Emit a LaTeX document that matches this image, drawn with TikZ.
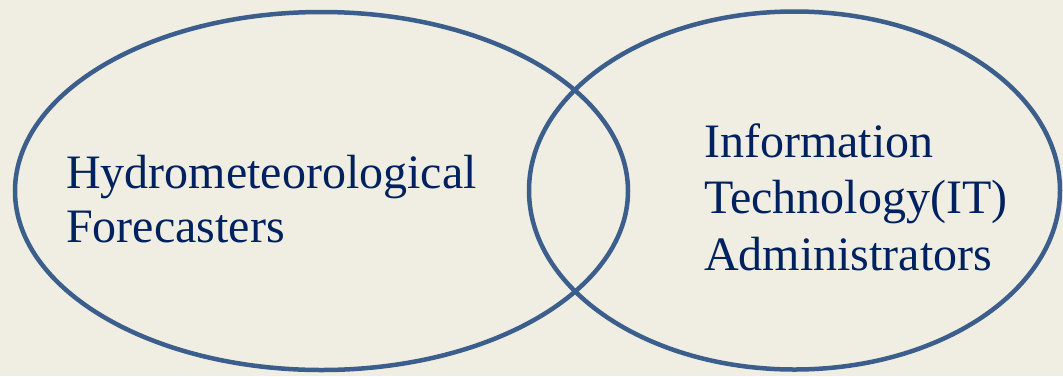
\documentclass[tikz,border=0pt]{standalone}
\usepackage{fontspec}
\setmainfont{Liberation Serif}
\definecolor{bgcol}{HTML}{F0EEE2}
\definecolor{ringcol}{HTML}{3B5E8C}
\definecolor{txtcol}{HTML}{00215F}
\begin{document}
\begin{tikzpicture}[x=1pt,y=-1pt,
  ring/.style={draw=ringcol, line width=4.5pt},
  label/.style={anchor=base west, inner sep=0pt, text=txtcol, font=\fontsize{48}{55}\selectfont}]
\fill[bgcol] (0,0) rectangle (1063,376);
\useasboundingbox (0,0) rectangle (1063,376);
\draw[ring] (321.5,191) ellipse [x radius=306.5pt, y radius=179pt];
\draw[ring] (794.5,190.5) ellipse [x radius=265.5pt, y radius=179pt];
\node[label] (h1) at (66,188) {Hydrometeorological};
\node[label] (h2) at (66,242) {Forecasters};
\node[label] (i1) at (704,157) {Information};
\node[label] (i2) at (704,213) {Technology(IT)};
\node[label] (i3) at (704,270) {Administrators};
\end{tikzpicture}
\end{document}
